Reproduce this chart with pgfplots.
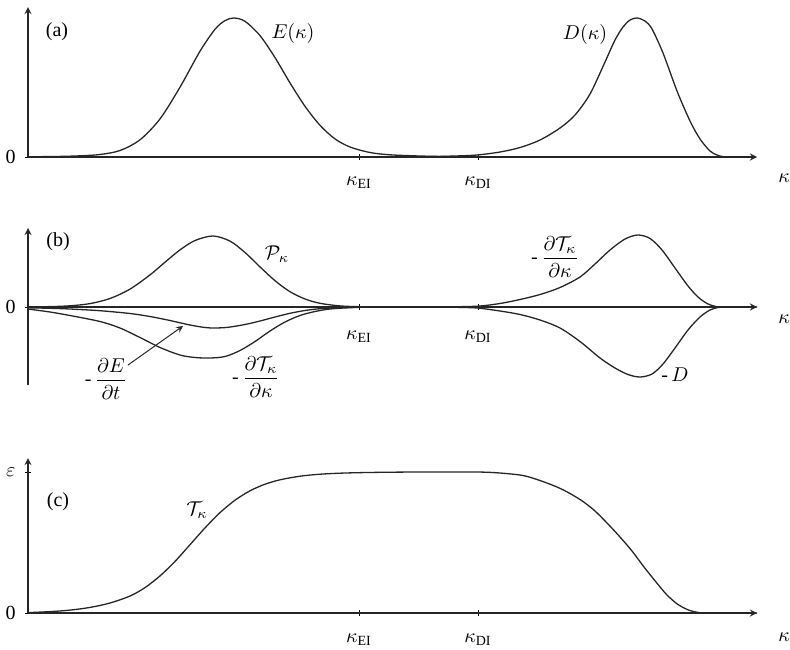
\documentclass[border=0pt]{standalone}
\usepackage{fontspec}
\setmainfont{Liberation Serif}
\usepackage{amsmath}
\usepackage{pgfplots}
\pgfplotsset{compat=1.18}

\pgfplotsset{
  panel/.style={
    x=0.5pt, y=0.5pt,
    xmin=28, xmax=757,
    anchor=south west,
    axis line style={-, line width=0.6pt, black!85},
    tick style={line width=0.5pt, black},
    tick align=inside,
    major tick length=3pt,
    xtick={359,478},
    xticklabels={$\kappa_{\mathrm{EI}}$,$\kappa_{\mathrm{DI}}$},
    yticklabel style={xshift=-1.2pt},
    hide obscured x ticks=false,
    hide obscured y ticks=false,
    clip=false,
    cycle list={black!85\\},
    every axis plot/.append style={line width=0.65pt, smooth, mark=none},
  },
}

\begin{document}
\begin{tikzpicture}
\useasboundingbox (0,0) rectangle (395pt,-324.5pt);

% (a) spectra
\begin{axis}[panel, at={(14pt,-78.5pt)},
  axis x line=bottom, axis y line=left,
  ymin=0, ymax=150, ytick={0}, yticklabels={0},
  xticklabel style={yshift=-4.7pt}]
\addplot coordinates {(28,0.2) (60,0.6) (80,1.2) (100,2.5) (120,6.5) (140,17.2) (160,38.1)
  (180,69.8) (200,105.8) (215,127.7) (225,136.4) (234,139) (245,135.7) (260,121.4)
  (275,99.4) (290,74.1) (305,50.7) (320,31.7) (335,18.1) (350,10) (370,4.5) (390,2.2)
  (420,1) (450,0.4) (490,0)};
\addplot coordinates {(400,0.1) (430,0.4) (455,1) (477,2) (500,5) (520,9.5) (540,17) (560,29)
  (575,42) (590,63) (605,95) (615,117) (623,130) (630,137) (637,139) (645,136) (652,128)
  (663,104) (677,66) (690,36) (700,18) (710,6) (717,2) (723,0.3) (730,0)};
\node at (axis cs:57,125) {(a)};
\node at (axis cs:293,124) {$E(\kappa)$};
\node at (axis cs:585,123) {$D(\kappa)$};
\node at (axis cs:784,-21) {$\kappa$};
\end{axis}

% (b) balance terms
\begin{axis}[panel, at={(14pt,-192.5pt)},
  axis x line=middle, axis y line=left,
  ymin=-78, ymax=79, ytick={0}, yticklabels={0},
  xticklabel style={yshift=-6.7pt}]
\addplot coordinates {(28,0.2) (50,0.4) (70,1.2) (90,3.4) (110,8.5) (130,17.9) (150,32.1)
  (165,44.8) (180,57.1) (195,66.5) (213,71) (230,65.9) (245,54.5) (260,40.1) (275,26.3)
  (290,15.3) (305,8) (320,3.7) (340,1.1) (360,0.3) (390,0)};
\addplot coordinates {(28,-0.8) (50,-1.3) (70,-2) (100,-3.7) (130,-6.5) (150,-9.5) (170,-13.5)
  (190,-18) (205,-20.5) (215,-21) (228,-20.3) (245,-17.5) (260,-14) (275,-10) (290,-6.3)
  (305,-3.5) (320,-1.7) (340,-0.6) (365,0)};
\addplot coordinates {(28,-2) (50,-5) (70,-8.5) (100,-14.5) (120,-21) (140,-30.5) (160,-40.5)
  (180,-48) (195,-50.5) (210,-51) (225,-49.5) (240,-43.5) (255,-34.5) (270,-24) (285,-15)
  (300,-8.5) (315,-4.5) (330,-2) (350,-0.7) (375,0) (400,0) (440,0.1) (477,0.8) (500,3.5)
  (520,7.5) (540,12.5) (560,19.5) (580,30) (595,43) (610,57) (625,68) (638,72) (650,68.5)
  (662,57) (675,39) (688,21) (698,10) (707,3.5) (714,1) (722,0) (757,0)};
\addplot coordinates {(420,0) (450,-0.2) (477,-1) (500,-4) (520,-7.5) (540,-13) (560,-21)
  (580,-34.5) (600,-51) (615,-61) (628,-67.5) (640,-70) (652,-67) (663,-57) (675,-41)
  (688,-23) (700,-10) (710,-3) (718,-0.5) (725,0)};
\node at (axis cs:58,65) {(b)};
\node at (axis cs:277,53) {$\mathcal{P}_\kappa$};
\node at (axis cs:555,50) {-\,$\dfrac{\partial\mathcal{T}_\kappa}{\partial\kappa}$};
\node at (axis cs:106,-72) {-\,$\dfrac{\partial E}{\partial t}$};
\node at (axis cs:256,-70) {-\,$\dfrac{\partial\mathcal{T}_\kappa}{\partial\kappa}$};
\node at (axis cs:675,-68) {-\,$D$};
\draw[->, >=stealth, line width=0.5pt, black!85] (axis cs:128,-58) -- (axis cs:183,-19);
\node at (axis cs:784,-12) {$\kappa$};
\end{axis}

% (c) transfer
\begin{axis}[panel, at={(14pt,-306.5pt)},
  axis x line=bottom, axis y line=left,
  ymin=0, ymax=155, ytick={0,141}, yticklabels={0,$\varepsilon$},
  xticklabel style={yshift=-5.2pt}]
\addplot coordinates {(28,0.4) (50,1.4) (70,2.9) (90,5.6) (110,10) (130,17) (145,25.4)
  (160,37.1) (175,51.6) (190,68.3) (205,85.1) (220,100.4) (235,112.8) (250,122.2)
  (265,128.8) (280,133.2) (300,136.8) (320,138.8) (345,140) (380,140.7) (420,141)
  (477,141) (500,140) (523,137.5) (540,132.5) (557,126) (570,119.5) (583,111.5) (595,102)
  (608,89) (620,76) (632,62) (644,46) (656,31) (667,18) (678,8.5) (689,2.8) (698,0.6)
  (706,0) (757,0)};
\node at (axis cs:58,111) {(c)};
\node at (axis cs:197,103) {$\mathcal{T}_\kappa$};
\node at (axis cs:784,-24) {$\kappa$};
\end{axis}
\end{tikzpicture}
\end{document}
